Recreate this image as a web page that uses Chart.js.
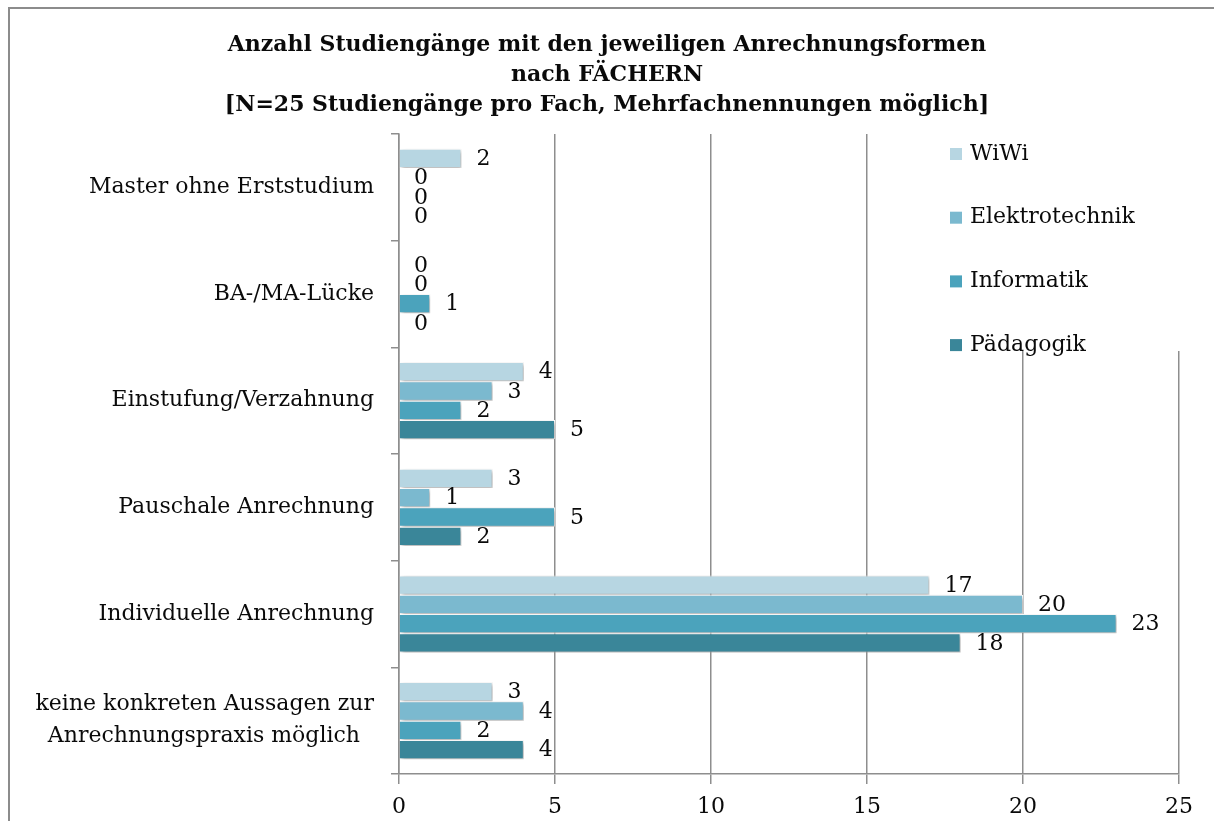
<!DOCTYPE html>
<html><head><meta charset="utf-8">
<script src="https://cdn.jsdelivr.net/npm/chart.js@4.4.0/dist/chart.umd.min.js"></script>
<style>
html,body{margin:0;padding:0;background:#fff;overflow:hidden;}
#wrap{position:relative;width:1214px;height:821px;}
canvas{display:block;}
</style></head><body>
<div id="wrap"><canvas id="c" width="1214" height="821"></canvas></div>
<script>
const categories = [
  'Master ohne Erststudium',
  'BA-/MA-Lücke',
  'Einstufung/Verzahnung',
  'Pauschale Anrechnung',
  'Individuelle Anrechnung',
  ['keine konkreten Aussagen zur', 'Anrechnungspraxis möglich  ']
];
const seriesNames = ['WiWi', 'Elektrotechnik', 'Informatik', 'Pädagogik'];
const wiwi           = [2, 0, 4, 3, 17, 3];
const elektrotechnik = [0, 0, 3, 1, 20, 4];
const informatik     = [0, 1, 2, 5, 23, 2];
const paedagogik     = [0, 0, 5, 2, 18, 4];
const xTicks = [0, 5, 10, 15, 20, 25];
const titleLines = [
  'Anzahl Studiengänge mit den jeweiligen Anrechnungsformen',
  'nach FÄCHERN',
  '[N=25 Studiengänge pro Fach, Mehrfachnennungen möglich]'
];
const seriesColors = ['#b7d6e2', '#7bb9cf', '#4ba3bc', '#3a8699'];

const FONT = 'DejaVu Serif';
const TEXT = '#0a0a0a';
const GRID = '#8e8e8e';

const bgPlugin = {
  id: 'bgBorder',
  beforeDraw(chart) {
    const c = chart.ctx;
    c.save();
    c.fillStyle = '#ffffff';
    c.fillRect(0, 0, chart.width, chart.height);
    c.strokeStyle = '#8c8c8c';
    c.lineWidth = 2;
    c.strokeRect(9, 8, 1300, 900);
    c.restore();
  }
};

const shadowPlugin = {
  id: 'barShadow',
  beforeDatasetsDraw(chart) {
    const c = chart.ctx;
    c.save();
    c.shadowColor = 'rgba(0,0,0,0.32)';
    c.shadowBlur = 4;
    c.shadowOffsetX = 2;
    c.shadowOffsetY = 2;
  },
  afterDatasetsDraw(chart) {
    chart.ctx.restore();
  }
};

const legendPlugin = {
  id: 'overlayLegend',
  afterDraw(chart) {
    const c = chart.ctx;
    const area = chart.chartArea;
    c.save();
    c.fillStyle = '#ffffff';
    c.fillRect(930, area.top, area.right + 12 - 930, 351 - area.top);
    c.font = '22px "' + FONT + '"';
    c.textAlign = 'left';
    c.textBaseline = 'middle';
    chart.data.datasets.forEach((ds, i) => {
      const y = 154 + i * 63.7;
      c.fillStyle = ds.backgroundColor;
      c.fillRect(950, y - 6, 12, 12);
      c.fillStyle = TEXT;
      c.fillText(ds.label, 970, y);
    });
    c.restore();
  }
};

const valueLabels = {
  id: 'valueLabels',
  afterDraw(chart) {
    const c = chart.ctx;
    c.save();
    c.font = '22px "' + FONT + '"';
    c.fillStyle = TEXT;
    c.textAlign = 'left';
    c.textBaseline = 'middle';
    chart.data.datasets.forEach((ds, di) => {
      const meta = chart.getDatasetMeta(di);
      meta.data.forEach((el, i) => {
        c.fillText(String(ds.data[i]), el.x + 15, el.y + 1);
      });
    });
    c.restore();
  }
};

const seriesData = [wiwi, elektrotechnik, informatik, paedagogik];

new Chart(document.getElementById('c').getContext('2d'), {
  type: 'bar',
  data: {
    labels: categories,
    datasets: seriesNames.map((n, i) => ({
      label: n,
      data: seriesData[i],
      backgroundColor: seriesColors[i],
      borderColor: '#ffffff',
      borderWidth: 1,
      categoryPercentage: 0.724,
      barPercentage: 1
    }))
  },
  options: {
    indexAxis: 'y',
    responsive: false,
    animation: false,
    devicePixelRatio: 1,
    layout: { padding: { left: 35, right: 35, top: 0, bottom: 0 } },
    plugins: {
      legend: { display: false },
      tooltip: { enabled: false },
      title: {
        display: true,
        text: titleLines,
        color: TEXT,
        font: { family: FONT, size: 22, weight: 'bold', lineHeight: '30px' },
        padding: { top: 30, bottom: 14 }
      }
    },
    scales: {
      x: {
        type: 'linear',
        min: 0,
        max: 25,
        afterBuildTicks(scale) { scale.ticks = xTicks.map(v => ({ value: v })); },
        afterFit(scale) { scale.height = 47; },
        grid: { color: GRID, lineWidth: 1.5, tickLength: 10, drawTicks: true },
        border: { display: true, color: GRID, width: 1.5 },
        ticks: { color: TEXT, font: { family: FONT, size: 22 }, padding: 10, maxRotation: 0 }
      },
      y: {
        afterFit(scale) { scale.width = 364; },
        grid: { drawOnChartArea: false, drawTicks: true, tickLength: 8, color: GRID, lineWidth: 1.5, offset: true },
        border: { display: true, color: GRID, width: 1.5 },
        ticks: { color: TEXT, font: { family: FONT, size: 22, lineHeight: 1.45 }, padding: 17 }
      }
    }
  },
  plugins: [bgPlugin, shadowPlugin, legendPlugin, valueLabels]
});
</script>
</body></html>
